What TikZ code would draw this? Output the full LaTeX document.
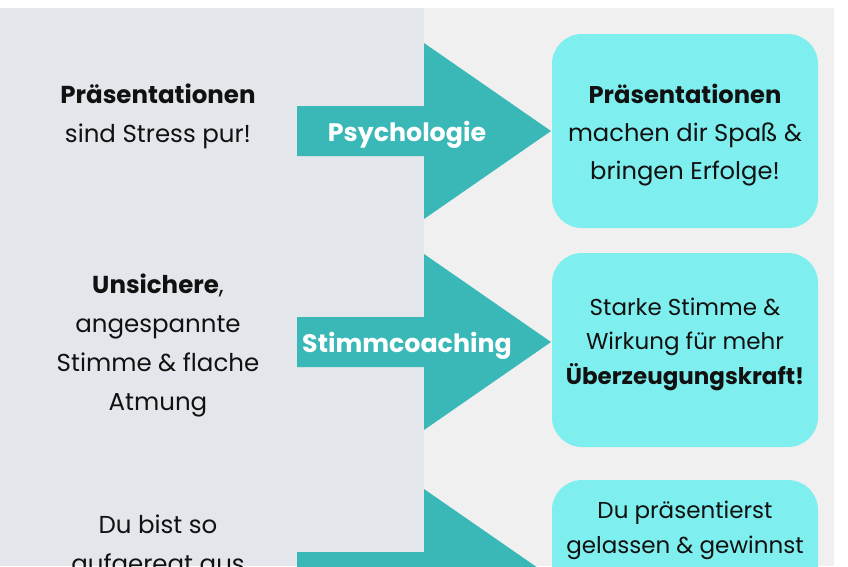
\documentclass[tikz,border=0pt]{standalone}
\usepackage{fontspec}
\setmainfont{Poppins}
\usepackage{tikz}
\usetikzlibrary{positioning}
\definecolor{panelleft}{RGB}{227,231,236}
\definecolor{panelright}{RGB}{240,240,240}
\definecolor{arrowteal}{RGB}{57,184,183}
\definecolor{boxcyan}{RGB}{126,239,238}
\definecolor{textdark}{RGB}{17,17,17}
\newcommand{\sizeproblem}{\fontsize{24.5}{39}\selectfont}
\newcommand{\sizegoal}{\fontsize{24.2}{38}\selectfont}
\newcommand{\sizegoalsmall}{\fontsize{23}{34.5}\selectfont}
\newcommand{\sizemethod}{\fontsize{25.3}{28}\selectfont}
\tikzset{
    problem/.style={align=center, inner sep=0pt, anchor=base, text=textdark, font=\sizeproblem},
    goal/.style={fill=boxcyan, rounded corners=30pt, minimum width=266pt, minimum height=194pt, inner sep=0pt},
    goaltext/.style={align=center, inner sep=0pt, anchor=base, text=textdark},
    method/.style={anchor=base, inner sep=0pt, text=white, font=\sizemethod\bfseries},
    bigarrow/.style={fill=arrowteal},
}

\begin{document}
\begin{tikzpicture}[x=1pt, y=-1pt]
    \useasboundingbox (0,0) rectangle (848,566);
    \fill[white] (0,0) rectangle (848,566);
    \fill[panelleft] (0,7.5) rectangle (423.5,566);
    \fill[panelright] (423.5,7.5) rectangle (834,566);

    \path
        (551,131) coordinate (tip-1)
        (551,342) coordinate (tip-2)
        (551,577) coordinate (tip-3);

    \foreach \row in {1,2,3}
        \fill[bigarrow] (tip-\row) -- ++(-127,88) -- ++(0,-63) -- ++(-127,0) -- ++(0,-50) -- ++(127,0) -- ++(0,-63) -- cycle;

    \path
        (685,131) node[goal] (goal-1) {}
        (685,350) node[goal] (goal-2) {}
        (685,577) node[goal] (goal-3) {};

    % base = baseline of the last line
    \path
        (158,142) node[problem] (problem-1) {\textbf{Präsentationen}\\sind Stress pur!}
        (158,410) node[problem] (problem-2) {\textbf{Unsichere},\\angespannte\\Stimme \& flache\\Atmung}
        (158,572) node[problem] (problem-3) {Du bist so\\aufgeregt aus};

    \path
        (407,141) node[method] (method-1) {Psychologie}
        (407,352) node[method] (method-2) {Stimmcoaching};

    \path
        (685,179) node[goaltext, font=\sizegoal] (goaltext-1) {\textbf{Präsentationen}\\machen dir Spaß \&\\bringen Erfolge!}
        (685,384) node[goaltext, font=\sizegoalsmall] (goaltext-2) {Starke Stimme \&\\Wirkung für mehr\\\textbf{Überzeugungskraft!}}
        (685,553) node[goaltext, font=\sizegoalsmall] (goaltext-3) {Du präsentierst\\gelassen \& gewinnst};
\end{tikzpicture}
\end{document}
